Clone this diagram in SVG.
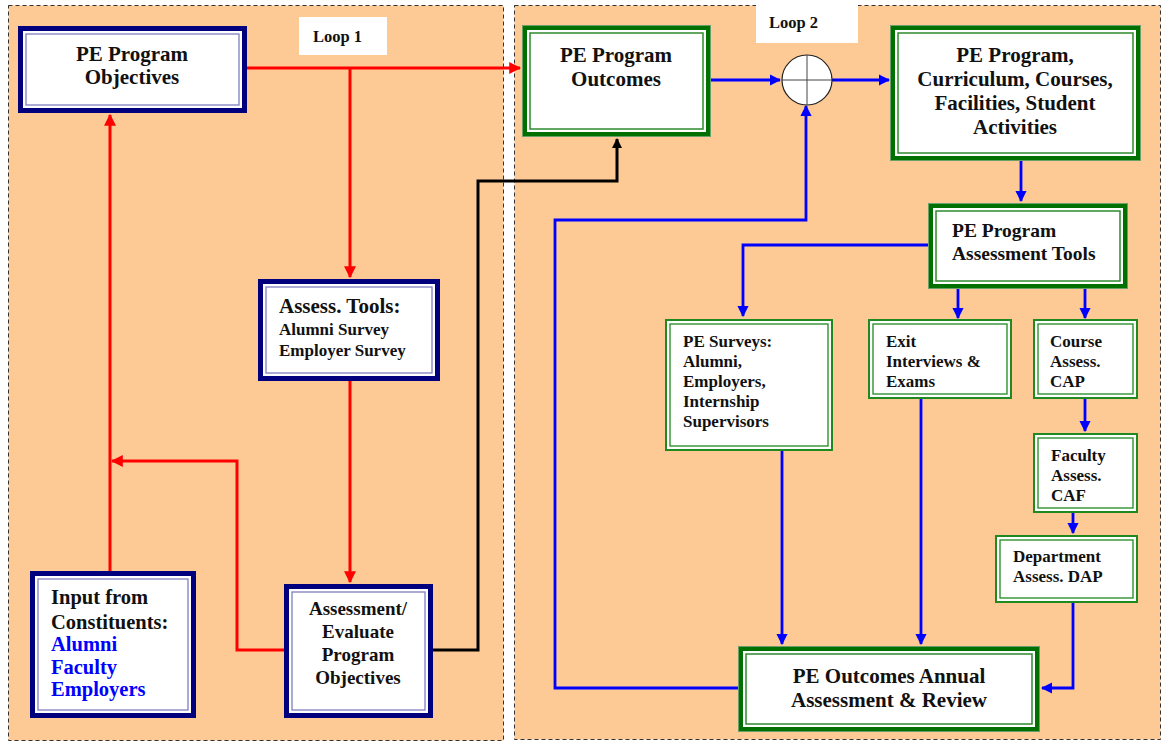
<svg xmlns="http://www.w3.org/2000/svg" width="1164" height="746" viewBox="0 0 1164 746">
<defs>
<style>
.panel{fill:#FDCA96;stroke:#333;stroke-width:1;stroke-dasharray:4 3}
.t{font-family:"Liberation Serif","Times New Roman",serif;font-weight:bold;fill:#111}
.nOut{fill:#fff;stroke:#00007f;stroke-width:5}
.nIn{fill:none;stroke:#7f7fc0;stroke-width:1.3}
.gA{fill:#fff;stroke:#6a9f6a;stroke-width:1}
.gB{fill:none;stroke:#007000;stroke-width:4}
.gC{fill:none;stroke:#2e8b2e;stroke-width:1.5}
.sA{fill:#fff;stroke:#1f8a1f;stroke-width:2}
.sB{fill:none;stroke:#1f8a1f;stroke-width:1.3}
.red{fill:none;stroke:#ff0000;stroke-width:3}
.blue{fill:none;stroke:#0000ff;stroke-width:2.8}
.blk{fill:none;stroke:#000;stroke-width:3}
.lbl{fill:#fff}
.bl{fill:#0000ff}
</style>
<marker id="ar" viewBox="0 0 10 10" refX="9" refY="5" markerWidth="4" markerHeight="4" markerUnits="strokeWidth" orient="auto"><path d="M0,0L10,5L0,10z" fill="#ff0000"/></marker>
<marker id="ab" viewBox="0 0 10 10" refX="9" refY="5" markerWidth="4" markerHeight="4" markerUnits="strokeWidth" orient="auto"><path d="M0,0L10,5L0,10z" fill="#0000ff"/></marker>
<marker id="ak" viewBox="0 0 10 10" refX="9" refY="5" markerWidth="3.5" markerHeight="3.5" markerUnits="strokeWidth" orient="auto"><path d="M0,0L10,5L0,10z" fill="#000"/></marker>
</defs>
<rect width="1164" height="746" fill="#fff"/>
<rect class="panel" x="8.5" y="5.5" width="495" height="735"/>
<rect class="panel" x="514.5" y="5.5" width="646" height="734"/>
<rect class="lbl" x="299" y="17" width="88" height="38"/>
<text class="t" x="313" y="42" font-size="16.5">Loop 1</text>
<rect class="lbl" x="756" y="5" width="102" height="38"/>
<text class="t" x="769" y="28" font-size="16.5">Loop 2</text>

<g id="connectors">
<path class="red" d="M247,68H520" marker-end="url(#ar)"/>
<path class="red" d="M350,68V277" marker-end="url(#ar)"/>
<path class="red" d="M350,381V582" marker-end="url(#ar)"/>
<path class="red" d="M110,571V115" marker-end="url(#ar)"/>
<path class="red" d="M284,650H237V461H112" marker-end="url(#ar)"/>
<path class="blk" d="M433,650H478V181H617V139" marker-end="url(#ak)"/>
<path class="blue" d="M709,80H780" marker-end="url(#ab)"/>
<path class="blue" d="M832,80H889" marker-end="url(#ab)"/>
<path class="blue" d="M1021,160V201" marker-end="url(#ab)"/>
<path class="blue" d="M928,245H743V316" marker-end="url(#ab)"/>
<path class="blue" d="M958,289V318" marker-end="url(#ab)"/>
<path class="blue" d="M1085,289V318" marker-end="url(#ab)"/>
<path class="blue" d="M1085,399V431" stroke-width="2" marker-end="url(#ab)"/>
<path class="blue" d="M1073,513V533" stroke-width="2" marker-end="url(#ab)"/>
<path class="blue" d="M782,450V644" marker-end="url(#ab)"/>
<path class="blue" d="M921,399V644" marker-end="url(#ab)"/>
<path class="blue" d="M1073,603V688H1042" marker-end="url(#ab)"/>
<path class="blue" d="M738,688H555V220H806V106" stroke-width="2.3" marker-end="url(#ab)"/>
</g>

<g id="sum">
<circle cx="807" cy="80" r="25" fill="#fff" stroke="#222" stroke-width="1.2"/>
<path d="M782,80H832M807,55V105" stroke="#444" stroke-width="1"/>
</g>

<g id="objectives">
<rect class="nOut" x="20.5" y="28.5" width="224" height="82"/>
<rect class="nIn" x="26" y="34" width="213" height="71"/>
<text class="t" font-size="21" text-anchor="middle"><tspan y="61" x="132">PE Program</tspan><tspan y="84" x="132">Objectives</tspan></text>
</g>

<g id="assess-tools">
<rect class="nOut" x="260.5" y="281.5" width="177" height="97"/>
<rect class="nIn" x="266" y="287" width="166" height="86"/>
<text class="t" x="279" y="313" font-size="21">Assess. Tools:</text>
<text class="t" x="279" y="335" font-size="17">Alumni Survey</text>
<text class="t" x="279" y="356" font-size="17">Employer Survey</text>
</g>

<g id="input">
<rect class="nOut" x="32.5" y="573.5" width="161" height="142"/>
<rect class="nIn" x="38" y="579" width="150" height="131"/>
<text class="t" x="51" y="604" font-size="20.5">Input from</text>
<text class="t" x="51" y="629" font-size="20.5">Constituents:</text>
<text class="t bl" x="51" y="651" font-size="20.5" style="fill:#0000ff">Alumni</text>
<text class="t bl" x="51" y="674" font-size="20.5" style="fill:#0000ff">Faculty</text>
<text class="t bl" x="51" y="696" font-size="20.5" style="fill:#0000ff">Employers</text>
</g>

<g id="evaluate">
<rect class="nOut" x="286.5" y="586.5" width="144" height="129"/>
<rect class="nIn" x="292" y="592" width="133" height="118"/>
<text class="t" font-size="19" text-anchor="middle"><tspan x="358" y="615">Assessment/</tspan><tspan x="358" y="638">Evaluate</tspan><tspan x="358" y="661">Program</tspan><tspan x="358" y="684">Objectives</tspan></text>
</g>

<g id="outcomes">
<rect class="gA" x="522.5" y="25.5" width="188" height="111"/>
<rect class="gB" x="525" y="28" width="183" height="106"/>
<rect class="gC" x="530" y="33" width="173" height="96"/>
<text class="t" font-size="21" text-anchor="middle"><tspan x="616" y="62">PE Program</tspan><tspan x="616" y="86">Outcomes</tspan></text>
</g>

<g id="curriculum">
<rect class="gA" x="890.5" y="25.5" width="250" height="135"/>
<rect class="gB" x="893" y="28" width="245" height="130"/>
<rect class="gC" x="898" y="33" width="235" height="120"/>
<text class="t" font-size="21" text-anchor="middle"><tspan x="1015" y="62">PE Program,</tspan><tspan x="1015" y="86">Curriculum, Courses,</tspan><tspan x="1015" y="110">Facilities, Student</tspan><tspan x="1015" y="134">Activities</tspan></text>
</g>

<g id="pe-assess-tools">
<rect class="gA" x="928.5" y="203.5" width="199" height="85"/>
<rect class="gB" x="931" y="206" width="194" height="80"/>
<rect class="gC" x="936" y="211" width="184" height="70"/>
<text class="t" font-size="19.5"><tspan x="952" y="237">PE Program</tspan><tspan x="952" y="260">Assessment Tools</tspan></text>
</g>

<g id="surveys">
<rect class="sA" x="666" y="320" width="166" height="130"/>
<rect class="sB" x="670" y="324" width="158" height="122"/>
<text class="t" font-size="17"><tspan x="683" y="347">PE Surveys:</tspan><tspan x="683" y="367">Alumni,</tspan><tspan x="683" y="387">Employers,</tspan><tspan x="683" y="407">Internship</tspan><tspan x="683" y="427">Supervisors</tspan></text>
</g>

<g id="exit">
<rect class="sA" x="869" y="320" width="142" height="78"/>
<rect class="sB" x="873" y="324" width="134" height="70"/>
<text class="t" font-size="17"><tspan x="886" y="347">Exit</tspan><tspan x="886" y="367">Interviews &amp;</tspan><tspan x="886" y="387">Exams</tspan></text>
</g>

<g id="course">
<rect class="sA" x="1034" y="320" width="103" height="78"/>
<rect class="sB" x="1038" y="324" width="95" height="70"/>
<text class="t" font-size="17"><tspan x="1050" y="347">Course</tspan><tspan x="1050" y="367">Assess.</tspan><tspan x="1050" y="387">CAP</tspan></text>
</g>

<g id="faculty">
<rect class="sA" x="1034" y="434" width="103" height="78"/>
<rect class="sB" x="1038" y="438" width="95" height="70"/>
<text class="t" font-size="17"><tspan x="1051" y="461">Faculty</tspan><tspan x="1051" y="481">Assess.</tspan><tspan x="1051" y="501">CAF</tspan></text>
</g>

<g id="department">
<rect class="sA" x="996" y="536" width="141" height="66"/>
<rect class="sB" x="1000" y="540" width="133" height="58"/>
<text class="t" font-size="17"><tspan x="1013" y="562">Department</tspan><tspan x="1013" y="582">Assess. DAP</tspan></text>
</g>

<g id="annual">
<rect class="gA" x="738.5" y="646.5" width="301" height="85"/>
<rect class="gB" x="741" y="649" width="296" height="80"/>
<rect class="gC" x="746" y="654" width="286" height="70"/>
<text class="t" font-size="21" text-anchor="middle"><tspan x="889" y="683">PE Outcomes Annual</tspan><tspan x="889" y="707">Assessment &amp; Review</tspan></text>
</g>
</svg>
